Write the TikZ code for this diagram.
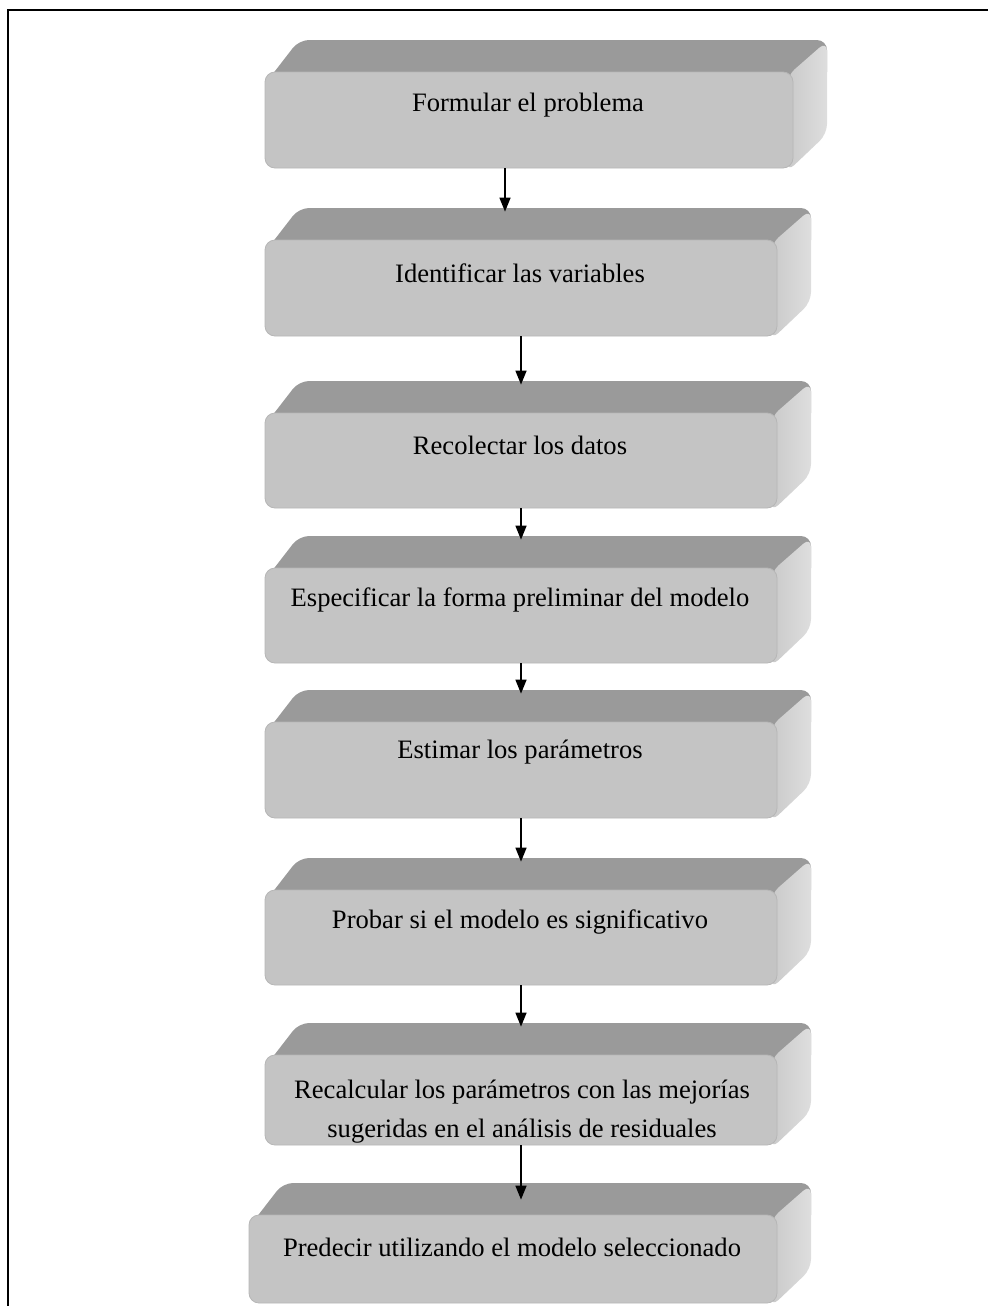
\documentclass[tikz,border=0pt]{standalone}
\usepackage{fontspec}
\setmainfont{Liberation Serif}
\usetikzlibrary{arrows.meta,calc,fit}

\definecolor{topface}{HTML}{9A9A9A}
\definecolor{frontface}{HTML}{C4C4C4}
\definecolor{frontedge}{HTML}{B6B6B6}
\definecolor{sideA}{HTML}{CACACA}
\definecolor{sideB}{HTML}{E4E4E4}
\definecolor{sideC}{HTML}{DEDEDE}

\tikzset{
  front/.style={draw=frontedge, line width=0.4pt, fill=frontface,
    rounded corners=5pt, inner sep=0pt},
  lbl/.style={font=\fontsize{13.3}{19.5}\selectfont, align=center, inner sep=0pt},
  arr/.style={line width=0.8pt, -{Triangle[length=7pt,width=5.5pt]}},
  frame/.style={line width=1.1pt}
}

% a raised box: name, left, front top, right, front bottom
\newcommand\raisedbox[5]{%
  \fill[topface, rounded corners=5pt]
    (#2,#3+12) -- (#2+34,#3-32) -- (#4+34,#3-32) -- (#4+34,#3+10) -- (#4,#3+40) -- cycle;
  \shade[left color=sideA, middle color=sideB, right color=sideC, rounded corners=5pt]
    (#4-6,#3+4) -- (#4+34,#3-31) -- (#4+34,#5-34) -- (#4-6,#5+4) -- cycle;
  \node[front, fit={(#2,#3) (#4,#5)}] (#1) {};
  \coordinate (#1-in) at ($(#1.north)+(0,-28)$);
}

\begin{document}
\begin{tikzpicture}[x=0.5pt, y=-0.5pt]
\useasboundingbox (0,0) rectangle (988,1306);

% outer frame (top and left edges)
\draw[frame] (8,1306) -- (8,10) -- (988,10);

\raisedbox{b1}{265}{72}{793}{168}
\raisedbox{b2}{265}{240}{777}{336}
\raisedbox{b3}{265}{413}{777}{508}
\raisedbox{b4}{265}{568}{777}{663}
\raisedbox{b5}{265}{722}{777}{818}
\raisedbox{b6}{265}{890}{777}{985}
\raisedbox{b7}{265}{1055}{777}{1145}
\raisedbox{b8}{249}{1215}{777}{1303}

\node[lbl] (t1) at (528,105) {Formular el problema};
\node[lbl] (t2) at (520,273) {Identificar las variables};
\node[lbl] (t3) at (520,445) {Recolectar los datos};
\node[lbl] (t4) at (520,600) {Especificar la forma preliminar del modelo};
\node[lbl] (t5) at (520,752) {Estimar los parámetros};
\node[lbl] (t6) at (520,922) {Probar si el modelo es significativo};
\node[lbl] (t7) at (522,1112) {Recalcular los parámetros con las mejorías\\sugeridas en el análisis de residuales};
\node[lbl] (t8) at (512,1247) {Predecir utilizando el modelo seleccionado};

% connectors
\draw[arr] (b1.south -| 505,0) -- (b2-in -| 505,0);
\draw[arr] (b2.south -| 521,0) -- (b3-in -| 521,0);
\draw[arr] (b3.south -| 521,0) -- (b4-in -| 521,0);
\draw[arr] (b4.south -| 521,0) -- (b5-in -| 521,0);
\draw[arr] (b5.south -| 521,0) -- (b6-in -| 521,0);
\draw[arr] (b6.south -| 521,0) -- (b7-in -| 521,0);
\draw[arr] (b7.south -| 521,0) -- ($(b8.north -| 521,0)+(0,-15)$);
\end{tikzpicture}
\end{document}
